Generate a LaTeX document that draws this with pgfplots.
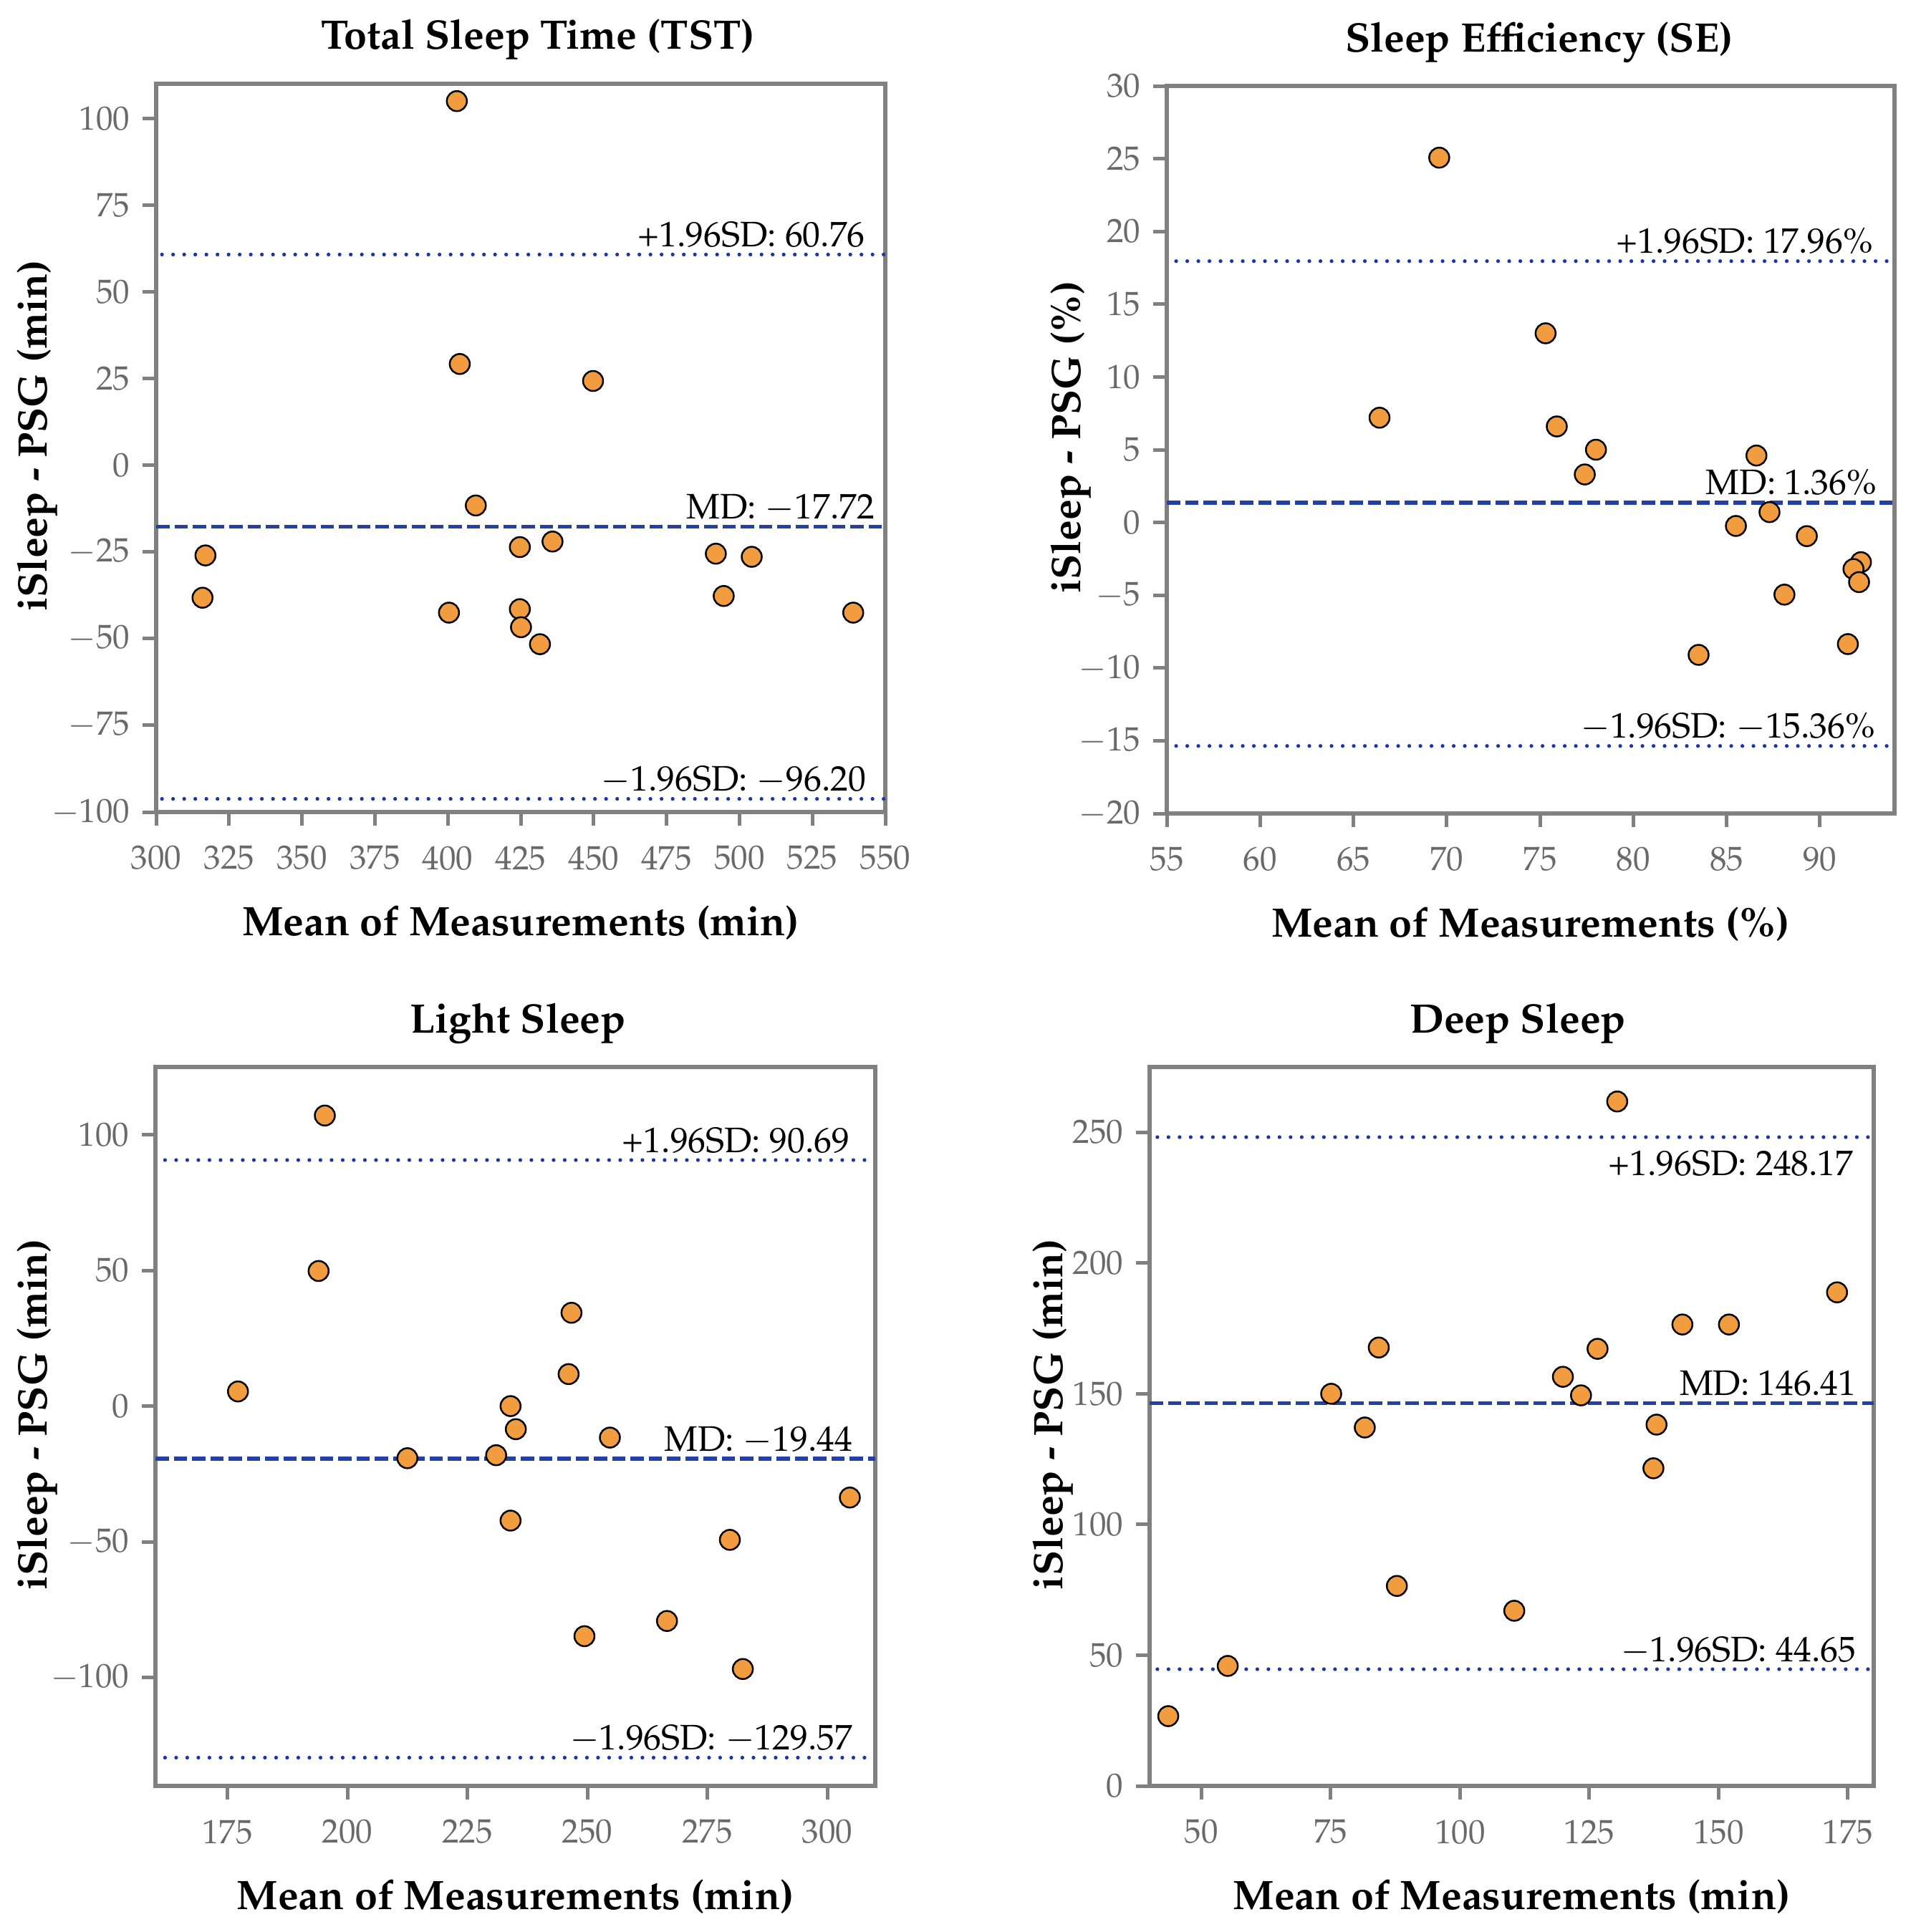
\documentclass[border=0pt]{standalone}
\usepackage[T1]{fontenc}
\usepackage{mathpazo}
\usepackage{pgfplots}
\pgfplotsset{compat=1.18}

\definecolor{mkorange}{RGB}{242,156,64}
\definecolor{mdblue}{RGB}{35,65,165}
\definecolor{sdblue}{RGB}{30,50,175}
\definecolor{framegray}{RGB}{128,128,128}
\definecolor{tickgray}{RGB}{105,105,105}

\tikzset{
  lbl/.style={font=\fontsize{9.9}{12}\selectfont, anchor=base east, inner sep=0pt},
}
\pgfplotsset{
  baplot/.style={
    scale only axis,
    anchor=south west,
    axis line style={framegray, line width=1.1pt},
    major tick style={framegray, line width=1.0pt},
    major tick length=3.8pt,
    tick align=outside,
    xtick pos=bottom,
    ytick pos=left,
    scaled ticks=false,
    tick label style={text=tickgray, font=\fontsize{9.4}{11}\selectfont},
    xticklabel style={yshift=-2.2pt},
    title style={font=\bfseries\fontsize{11.5}{13}\selectfont, at={(axis description cs:0.5,1)}, anchor=base, yshift=3.6pt},
    xlabel style={font=\bfseries\fontsize{11.5}{13}\selectfont, at={(axis description cs:0.5,0)}, anchor=base, yshift=-34.5pt},
    ylabel style={font=\bfseries\fontsize{11.5}{13}\selectfont, anchor=center},
  },
  pts/.style={only marks, mark=*, mark size=2.8pt, mark options={fill=mkorange, draw=black, line width=0.5pt}},
  mdline/.style={mdblue, line width=1.15pt, dash pattern=on 3.7pt off 1.4pt},
  sdline/.style={sdblue, line width=1.05pt, line cap=round, dash pattern=on 0pt off 3.1pt},
}

\begin{document}
\begin{tikzpicture}
\useasboundingbox (0pt,0pt) rectangle (534.8pt,-539.6pt);

% ---------------- Total Sleep Time ----------------
\begin{axis}[baplot,
  at={(43.6pt,-226.8pt)}, width=203.6pt, height=203.4pt,
  xmin=300, xmax=550, ymin=-100, ymax=110,
  xtick={300,325,...,550}, ytick={-100,-75,...,100},
  title={Total Sleep Time (TST)}, title style={xshift=4.8pt},
  xlabel={Mean of Measurements (min)},
  ylabel={iSleep - PSG (min)}, ylabel style={at={(axis description cs:-0.163,0.517)}},
]
\addplot[sdline] coordinates {(302,60.76) (550,60.76)};
\addplot[mdline] coordinates {(300,-17.72) (550,-17.72)};
\addplot[sdline] coordinates {(302,-96.20) (550,-96.20)};
\addplot[pts] coordinates {
(403.1,105.0) (404.1,29.2) (449.8,24.3) (409.6,-11.6)
(316.9,-26.0) (315.9,-38.2) (400.4,-42.5) (424.7,-23.6)
(435.9,-22.0) (424.7,-41.5) (425.1,-46.7) (431.6,-51.6)
(491.9,-25.5) (504.2,-26.4) (494.6,-37.7) (539.0,-42.5)
};
\node[lbl, yshift=2.2pt, xshift=-5.5pt] at (axis cs:550,60.76) {+1.96SD: 60.76};
\node[lbl, yshift=2.2pt, xshift=-2.8pt] at (axis cs:550,-17.72) {MD: $-$17.72};
\node[lbl, yshift=2.2pt, xshift=-5.2pt] at (axis cs:550,-96.20) {$-$1.96SD: $-$96.20};
\end{axis}

% ---------------- Sleep Efficiency ----------------
\begin{axis}[baplot,
  at={(325.8pt,-227.2pt)}, width=203.2pt, height=203.2pt,
  xmin=55, xmax=94, ymin=-20, ymax=30,
  xtick={55,60,...,90}, ytick={-20,-15,...,30},
  title={Sleep Efficiency (SE)}, title style={xshift=2.4pt},
  xlabel={Mean of Measurements (\%)},
  ylabel={iSleep - PSG (\%)}, ylabel style={at={(axis description cs:-0.132,0.517)}},
]
\addplot[sdline] coordinates {(55.5,17.96) (94,17.96)};
\addplot[mdline] coordinates {(55,1.36) (94,1.36)};
\addplot[sdline] coordinates {(55.5,-15.36) (94,-15.36)};
\addplot[pts] coordinates {
(69.6,25.07) (75.3,13.0) (66.4,7.2) (75.9,6.6)
(78.0,5.0) (77.4,3.3) (86.6,4.6) (87.3,0.71)
(85.5,-0.24) (89.3,-0.94) (92.2,-2.73) (91.8,-3.2)
(92.1,-4.1) (88.1,-4.96) (91.5,-8.36) (83.5,-9.1)
};
\node[lbl, yshift=2.2pt, xshift=-5.8pt] at (axis cs:94,17.96) {+1.96SD: 17.96\%};
\node[lbl, yshift=2.2pt, xshift=-4.8pt] at (axis cs:94,1.36) {MD: 1.36\%};
\node[lbl, yshift=2.2pt, xshift=-5.2pt] at (axis cs:94,-15.36) {$-$1.96SD: $-$15.36\%};
\end{axis}

% ---------------- Light Sleep ----------------
\begin{axis}[baplot,
  at={(43.4pt,-498.8pt)}, width=201pt, height=200.8pt,
  xmin=160, xmax=310, ymin=-140, ymax=125,
  xtick={175,200,...,300}, ytick={-100,-50,...,100},
  title={Light Sleep}, title style={xshift=0.7pt},
  xlabel={Mean of Measurements (min)},
  ylabel={iSleep - PSG (min)}, ylabel style={at={(axis description cs:-0.164,0.517)}},
]
\addplot[sdline] coordinates {(162,90.69) (310,90.69)};
\addplot[mdline] coordinates {(160,-19.44) (310,-19.44)};
\addplot[sdline] coordinates {(162,-129.57) (310,-129.57)};
\addplot[pts] coordinates {
(195.3,107.1) (194.0,49.8) (177.2,5.4) (246.7,34.4)
(246.1,11.8) (234.0,0.0) (235.1,-8.5) (254.7,-11.6)
(212.5,-19.2) (231.0,-18.1) (234.0,-42.2) (304.7,-33.7)
(279.7,-49.3) (249.4,-84.8) (266.6,-79.2) (282.4,-96.9)
};
\node[lbl, yshift=2.2pt, xshift=-7.0pt] at (axis cs:310,90.69) {+1.96SD: 90.69};
\node[lbl, yshift=2.2pt, xshift=-6.2pt] at (axis cs:310,-19.44) {MD: $-$19.44};
\node[lbl, yshift=2.2pt, xshift=-6.2pt] at (axis cs:310,-129.57) {$-$1.96SD: $-$129.57};
\end{axis}

% ---------------- Deep Sleep ----------------
\begin{axis}[baplot,
  at={(321pt,-498.8pt)}, width=202.2pt, height=200.8pt,
  xmin=40, xmax=180, ymin=0, ymax=275,
  xtick={50,75,...,175}, ytick={0,50,...,250},
  title={Deep Sleep}, title style={xshift=1.7pt},
  xlabel={Mean of Measurements (min)},
  ylabel={iSleep - PSG (min)}, ylabel style={at={(axis description cs:-0.133,0.517)}},
]
\addplot[sdline] coordinates {(41.5,248.17) (180,248.17)};
\addplot[mdline] coordinates {(40,146.41) (180,146.41)};
\addplot[sdline] coordinates {(41.5,44.65) (180,44.65)};
\addplot[pts] coordinates {
(130.4,261.8) (172.9,188.8) (143.0,176.5) (152.0,176.5)
(84.3,167.7) (126.6,167.2) (119.9,156.5) (75.1,150.0)
(123.4,149.4) (81.6,137.1) (138.0,138.2) (137.4,121.5)
(87.8,76.5) (110.5,67.0) (55.1,45.9) (43.6,26.7)
};
\node[lbl, yshift=-10.8pt, xshift=-5.5pt] at (axis cs:180,248.17) {+1.96SD: 248.17};
\node[lbl, yshift=2.2pt, xshift=-4.8pt] at (axis cs:180,146.41) {MD: 146.41};
\node[lbl, yshift=2.2pt, xshift=-4.8pt] at (axis cs:180,44.65) {$-$1.96SD: 44.65};
\end{axis}
\end{tikzpicture}
\end{document}
